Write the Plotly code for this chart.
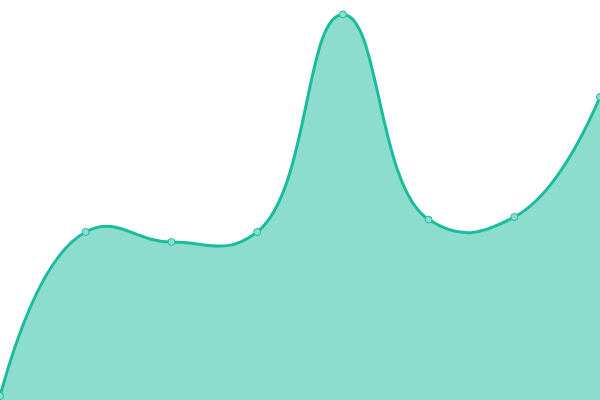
import plotly.graph_objects as go

# Data (8 evenly spaced points)
x_vals = [0, 1, 2, 3, 4, 5, 6, 7]
y_vals = [1, 42, 39.5, 42, 96.4, 45.1, 45.75, 75.75]

line_color = "#1abc9c"

fig = go.Figure(go.Scatter(
    x=x_vals,
    y=y_vals,
    mode="lines+markers",
    line=dict(color=line_color, width=3, shape="spline", smoothing=1.3),
    fill="tozeroy",
    fillcolor="rgba(26,188,156,0.5)",
    marker=dict(size=7, color="rgba(140,221,205,1)",
                line=dict(color=line_color, width=1)),
    hoverinfo="skip",
))

fig.update_layout(
    width=600,
    height=400,
    margin=dict(l=0, r=0, t=0, b=0),
    paper_bgcolor="white",
    plot_bgcolor="white",
    showlegend=False,
    xaxis=dict(visible=False, range=[0, 7]),
    yaxis=dict(visible=False, range=[0, 100]),
)

# drop the browser's default body margin so the chart sits at (0, 0)
fig.write_html(
    "out.html",
    config={"displayModeBar": False},
    post_script="document.body.style.margin='0';",
)
